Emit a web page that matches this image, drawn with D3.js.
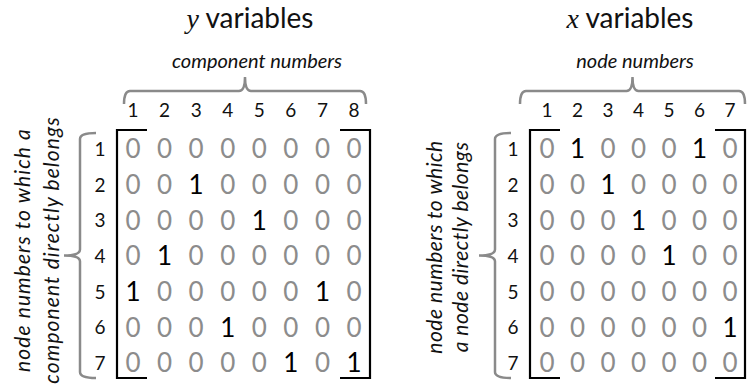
<!DOCTYPE html>
<html>
<head>
<meta charset="utf-8">
<script src="https://cdn.jsdelivr.net/npm/d3@7"></script>
<style>
  html, body { margin: 0; padding: 0; background: #fff; }
  svg { display: block; }
</style>
</head>
<body>
<svg id="chart" width="747" height="385"></svg>
<script>
// ---------- data ----------
const yColumns = [1, 2, 3, 4, 5, 6, 7, 8];     // component numbers
const yRows = [1, 2, 3, 4, 5, 6, 7];           // node numbers
const yValues = [
  [0, 0, 0, 0, 0, 0, 0, 0],
  [0, 0, 1, 0, 0, 0, 0, 0],
  [0, 0, 0, 0, 1, 0, 0, 0],
  [0, 1, 0, 0, 0, 0, 0, 0],
  [1, 0, 0, 0, 0, 0, 1, 0],
  [0, 0, 0, 1, 0, 0, 0, 0],
  [0, 0, 0, 0, 0, 1, 0, 1]
];
const xColumns = [1, 2, 3, 4, 5, 6, 7];        // node numbers
const xRows = [1, 2, 3, 4, 5, 6, 7];           // node numbers
const xValues = [
  [0, 1, 0, 0, 0, 1, 0],
  [0, 0, 1, 0, 0, 0, 0],
  [0, 0, 0, 1, 0, 0, 0],
  [0, 0, 0, 0, 1, 0, 0],
  [0, 0, 0, 0, 0, 0, 0],
  [0, 0, 0, 0, 0, 0, 1],
  [0, 0, 0, 0, 0, 0, 0]
];
const yTitle = ["y", " variables"];
const xTitle = ["x", " variables"];
const yColLabel = "component numbers";
const xColLabel = "node numbers";
const yRowLabel = ["node numbers to which a", "component directly belongs"];
const xRowLabel = ["node numbers to which", "a node directly belongs"];

// ---------- drawing ----------
const svg = d3.select("#chart");
const FONT = "Lato, 'Open Sans', sans-serif";
const GRAY = "#8a8a8a";

function brace(x0, x1, y, tip, depth) {
  const xm = (x0 + x1) / 2, r = 6;
  return `M${x0},${y + depth} Q${x0},${y} ${x0 + r},${y}` +
         ` L${xm - r},${y} Q${xm},${y} ${xm},${y - tip}` +
         ` Q${xm},${y} ${xm + r},${y} L${x1 - r},${y} Q${x1},${y} ${x1},${y + depth}`;
}
function vbrace(x, y0, y1, tip, depth) {
  const ym = (y0 + y1) / 2, r = 6;
  return `M${x + depth},${y0} Q${x},${y0} ${x},${y0 + r}` +
         ` L${x},${ym - r} Q${x},${ym} ${x - tip},${ym}` +
         ` Q${x},${ym} ${x},${ym + r} L${x},${y1 - r} Q${x},${y1} ${x + depth},${y1}`;
}

function drawMatrix(cfg) {
  const g = svg.append("g");
  const xs = d3.scalePoint().domain(cfg.cols).range(cfg.xRange);
  const ys = d3.scalePoint().domain(cfg.rows).range([149, 363]);

  // title
  const t = g.append("text")
    .attr("x", cfg.titleX).attr("y", 28)
    .attr("text-anchor", "middle")
    .style("font-family", FONT).style("font-size", "28px").attr("fill", "#111");
  t.append("tspan").text(cfg.title[0])
    .style("font-family", "'Liberation Serif', 'DejaVu Serif', serif")
    .style("font-style", "italic").style("font-size", "28px");
  t.append("tspan").text(cfg.title[1]);

  // column label
  g.append("text")
    .attr("x", cfg.colLabelX).attr("y", 68)
    .attr("text-anchor", "middle")
    .style("font-family", FONT).style("font-size", "20px").style("font-style", "italic")
    .attr("fill", "#111").text(cfg.colLabel);

  // top brace
  g.append("path")
    .attr("d", brace(cfg.braceX[0], cfg.braceX[1], 91, 14, 13))
    .attr("fill", "none").attr("stroke", GRAY).attr("stroke-width", 2.5);

  // column headers
  g.selectAll(".ch").data(cfg.cols).join("text")
    .attr("x", d => xs(d)).attr("y", 117)
    .attr("text-anchor", "middle")
    .style("font-family", FONT).style("font-size", "19px").attr("fill", "#111")
    .text(d => d);

  // row headers
  g.selectAll(".rh").data(cfg.rows).join("text")
    .attr("x", cfg.rowLabelX).attr("y", d => ys(d))
    .attr("dy", "0.36em")
    .attr("text-anchor", "middle")
    .style("font-family", FONT).style("font-size", "19px").attr("fill", "#111")
    .text(d => d);

  // left brace
  g.append("path")
    .attr("d", vbrace(cfg.vbraceX, 133, 378, 16, 16))
    .attr("fill", "none").attr("stroke", GRAY).attr("stroke-width", 2.5);

  // rotated row label
  cfg.rowLabel.forEach((line, i) => {
    g.append("text")
      .attr("transform", `translate(${cfg.rowTextX[i]},${cfg.rowTextY}) rotate(-90)`)
      .attr("text-anchor", "middle")
      .style("font-family", FONT).style("font-size", "21px").style("font-style", "italic")
      .style("letter-spacing", cfg.rowTextSpacing + "px")
      .attr("fill", "#111").text(line);
  });

  // matrix cells
  const cells = [];
  cfg.values.forEach((row, ri) => row.forEach((v, ci) => cells.push({r: cfg.rows[ri], c: cfg.cols[ci], v})));
  g.selectAll(".cell").data(cells).join("text")
    .attr("x", d => xs(d.c)).attr("y", d => ys(d.r))
    .attr("dy", "0.36em")
    .attr("text-anchor", "middle")
    .style("font-family", FONT).style("font-size", "26px")
    .attr("fill", d => d.v ? "#000" : "#8c8c8c")
    .text(d => d.v);

  // brackets
  const [bl, br] = cfg.bracketX, top = 130, bot = 378;
  g.append("path")
    .attr("d", `M${bl + 30},${top} H${bl} V${bot} H${bl + 30}`)
    .attr("fill", "none").attr("stroke", "#000").attr("stroke-width", 2.2);
  g.append("path")
    .attr("d", `M${br - 30},${top} H${br} V${bot} H${br - 30}`)
    .attr("fill", "none").attr("stroke", "#000").attr("stroke-width", 2.2);
}

drawMatrix({
  cols: yColumns, rows: yRows, values: yValues,
  xRange: [133, 354], title: yTitle, titleX: 250,
  colLabel: yColLabel, colLabelX: 257, braceX: [124, 366],
  rowLabelX: 100, vbraceX: 80,
  rowLabel: yRowLabel, rowTextX: [30, 59], rowTextY: 250, rowTextSpacing: 1.1,
  bracketX: [117, 370]
});
drawMatrix({
  cols: xColumns, rows: xRows, values: xValues,
  xRange: [547, 730], title: xTitle, titleX: 630,
  colLabel: xColLabel, colLabelX: 635, braceX: [520, 745],
  rowLabelX: 513, vbraceX: 495,
  rowLabel: xRowLabel, rowTextX: [442, 468], rowTextY: 247, rowTextSpacing: 0.5,
  bracketX: [530, 745]
});
</script>
</body>
</html>
